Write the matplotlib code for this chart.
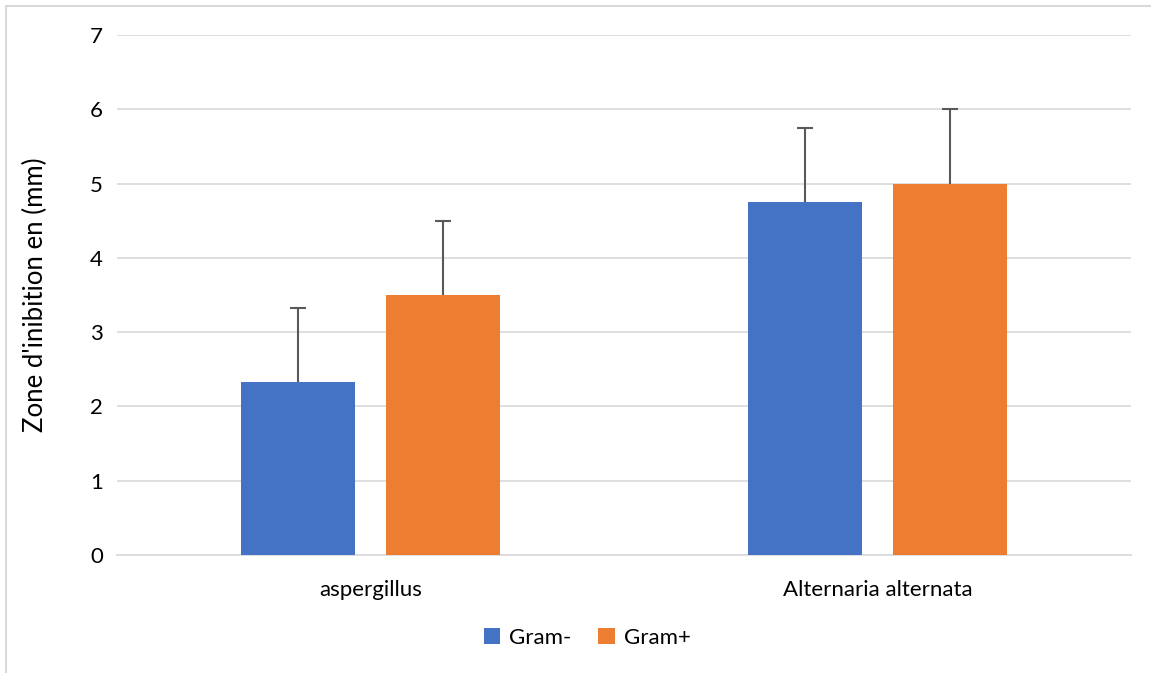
import matplotlib
matplotlib.use("Agg")
import matplotlib.pyplot as plt
import numpy as np
from matplotlib.patches import Rectangle

categories = ["aspergillus", "Alternaria alternata"]
gram_neg = [2.33, 4.75]
gram_pos = [3.5, 5.0]
err_neg = [1.0, 1.0]
err_pos = [1.0, 1.0]

plt.rcParams['font.family'] = ['Lato', 'DejaVu Sans']

fig = plt.figure(figsize=(11.51, 6.73), dpi=100)
ax = fig.add_axes([117/1151, 1 - 555/673, (1131-117)/1151, (555-35)/673])

# cadre gris autour du graphique
fig.patches.append(Rectangle((6/1151, -0.1), 1.2, 1 - 6/673 + 0.1, transform=fig.transFigure,
                             fill=False, edgecolor='#D9D9D9', linewidth=1.5))

x = np.arange(len(categories))
w = 0.223
ax.bar(x - 0.143, gram_neg, w, color='#4472C4', label='Gram-', zorder=3)
ax.bar(x + 0.143, gram_pos, w, color='#ED7D31', label='Gram+', zorder=3)
for xs, vals, errs in [(x - 0.143, gram_neg, err_neg), (x + 0.143, gram_pos, err_pos)]:
    eb = ax.errorbar(xs, vals, yerr=[[0] * len(vals), errs], fmt='none', ecolor='#595959',
                     elinewidth=1.5, capsize=6, capthick=1.5, zorder=4)
    eb[1][0].set_visible(False)  # pas de cap en bas

ax.set_xlim(-0.5, 1.5)
ax.set_ylim(0, 7)
ax.set_yticks(range(8))
ax.set_xticks(x)
ax.set_xticklabels(categories)
ax.grid(axis='y', color='#D9D9D9', linewidth=1.2, zorder=0)
for s in ['top', 'right', 'left']:
    ax.spines[s].set_visible(False)
ax.spines['bottom'].set_color('#D9D9D9')
ax.spines['bottom'].set_linewidth(1.2)
ax.tick_params(length=0, labelsize=16, colors='#404040', labelcolor='black')
ax.tick_params(axis='y', pad=10)
ax.tick_params(axis='x', pad=18)
ax.set_ylabel("Zone d'inibition en (mm)", fontsize=18.5, labelpad=30)

fig.legend(loc='center', bbox_to_anchor=(587/1151, 1 - 638/673), ncol=2, frameon=False,
           fontsize=16, handlelength=0.75, handleheight=0.75, columnspacing=1.2, handletextpad=0.4)

fig.savefig("out.png", dpi=100)
